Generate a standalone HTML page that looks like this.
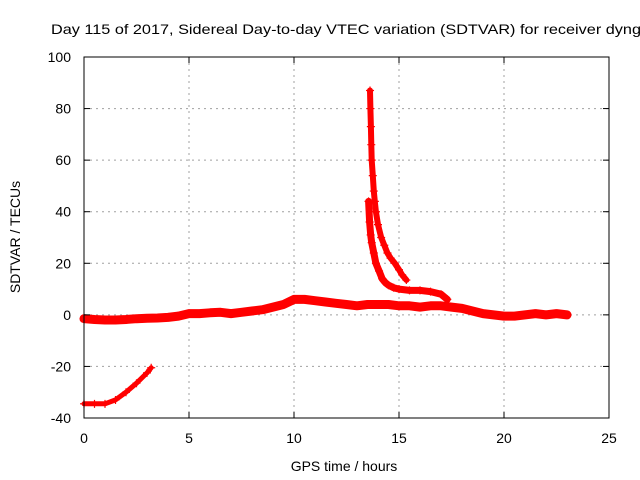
<!DOCTYPE html>
<html><head><meta charset="utf-8"><style>
html,body{margin:0;padding:0;background:#fff}
svg{display:block;font-family:"Liberation Sans",sans-serif}
</style></head><body>
<svg id="chart" width="640" height="480" viewBox="0 0 640 480" xmlns="http://www.w3.org/2000/svg">
<rect width="640" height="480" fill="#fff"/>
<text x="51" y="34" font-size="14" textLength="590" lengthAdjust="spacingAndGlyphs">Day 115 of 2017, Sidereal Day-to-day VTEC variation (SDTVAR) for receiver dyng</text>
<g id="grid"></g>
<g id="marks"></g>
<rect x="84" y="57" width="525" height="361" fill="none" stroke="#000" stroke-width="1"/>
<g id="ticks"></g>
<text x="344" y="471" font-size="14" text-anchor="middle">GPS time / hours</text>
<text transform="translate(20,237) rotate(-90)" font-size="14" text-anchor="middle">SDTVAR / TECUs</text>
</svg>
<script>
const xTicks=[0,5,10,15,20,25];
const yTicks=[-40,-20,0,20,40,60,80,100];
const baseX=[0,0.5,1,1.5,2,2.5,3,3.5,4,4.5,5,5.5,6,6.5,7,7.5,8,8.5,9,9.5,10,10.5,11,11.5,12,12.5,13,13.5,14,14.5,15,15.5,16,16.5,17,17.5,18,18.5,19,19.5,20,20.5,21,21.5,22,22.5,23];
const baseY=[-1.5,-1.8,-2,-2,-1.8,-1.5,-1.3,-1.2,-1,-0.5,0.5,0.5,0.8,1,0.5,1,1.5,2,3,4,6,6,5.5,5,4.5,4,3.5,4,4,4,3.5,3.5,3,3.5,3.5,3,2.5,1.5,0.5,0,-0.5,-0.5,0,0.5,0,0.5,0];
const lowX=[0,0.5,1,1.5,2,2.5,3,3.2];
const lowY=[-34.5,-34.5,-34.5,-33,-30,-26.5,-22.5,-20.5];
const spikeAX=[13.62,13.64,13.66,13.68,13.7,13.75,13.8,13.85,13.9,14.0,14.15,14.3,14.45,14.6,14.8,15.0,15.15,15.35];
const spikeAY=[87,80,73,66,60,54,48,44,40,35,30,27,24,22,20,17.5,15.5,13.5];
const spikeBX=[13.55,13.6,13.65,13.7,13.8,13.9,14.05,14.2,14.35,14.5,14.75,15,15.5,16,16.5,17,17.3];
const spikeBY=[44,36,31,28,24,20,17,14,12.5,11.5,10.5,10,9.5,9.5,9,8,6];
const NS="http://www.w3.org/2000/svg";
const X0=84,X1=609,Y0=418,Y1=57;
function sx(v){return X0+(v-0)/(25-0)*(X1-X0);}
function sy(v){return Y0-(v-(-40))/(140)*(Y0-Y1);}
function mk(t,a){const e=document.createElementNS(NS,t);for(const k in a)e.setAttribute(k,a[k]);return e;}
const grid=document.getElementById('grid'),ticks=document.getElementById('ticks'),marks=document.getElementById('marks');
xTicks.forEach(v=>{const x=sx(v);
 if(v>0&&v<25){const g=mk('line',{x1:x,x2:x,y1:Y1,y2:Y0,stroke:'#a0a0a0','stroke-dasharray':'2,4'});
 
 grid.appendChild(g);}
 const t1=mk('line',{x1:x,x2:x,y1:Y0,y2:Y0-6,stroke:'#000'});
 
 ticks.appendChild(t1);
 const t2=mk('line',{x1:x,x2:x,y1:Y1,y2:Y1+6,stroke:'#000'});
 
 ticks.appendChild(t2);
 const l=mk('text',{x:x,y:443,'font-size':14,'text-anchor':'middle'});l.textContent=v;
 
 ticks.appendChild(l);});
yTicks.forEach(v=>{const y=sy(v);
 if(v>-40&&v<100){const g=mk('line',{x1:X0,x2:X1,y1:y,y2:y,stroke:'#a0a0a0','stroke-dasharray':'2,4'});
 
 grid.appendChild(g);}
 const t1=mk('line',{x1:X0,x2:X0+6,y1:y,y2:y,stroke:'#000'});
 
 ticks.appendChild(t1);
 const t2=mk('line',{x1:X1,x2:X1-6,y1:y,y2:y,stroke:'#000'});
 
 ticks.appendChild(t2);
 const l=mk('text',{x:71,y:y+5,'font-size':14,'text-anchor':'end'});l.textContent=v;
 
 ticks.appendChild(l);});
function series(xs,ys,name,w){
 const pts=xs.map((x,i)=>sx(x).toFixed(1)+','+sy(ys[i]).toFixed(1)).join(' ');
 const p=mk('polyline',{points:pts,fill:'none',stroke:'#f00','stroke-width':w,'stroke-linejoin':'round','stroke-linecap':'round'});
 
 marks.appendChild(p);
 xs.forEach((x,i)=>{const cx=sx(x),cy=sy(ys[i]);
  const c=mk('path',{d:`M${cx-4},${cy}h8M${cx},${cy-4}v8`,stroke:'#f00','stroke-width':1.2});
  
  marks.appendChild(c);});
}
series(baseX,baseY,'baseline-series',9);
series(lowX,lowY,'low-arc-series',5);
series(spikeAX,spikeAY,'spike-upper-series',6);
series(spikeBX,spikeBY,'spike-lower-series',7);
</script>
</body></html>
